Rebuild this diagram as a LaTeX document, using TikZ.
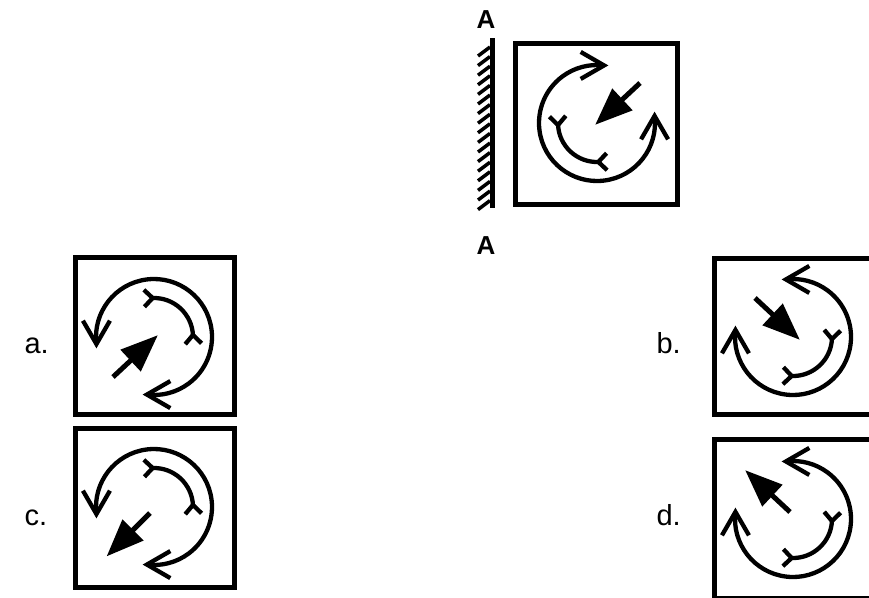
\documentclass[tikz,border=0pt]{standalone}
\usepackage{fontspec}
\setmainfont{Liberation Sans}
\newfontfamily\labelbold{Liberation Sans Bold}
\usetikzlibrary{calc}
\tikzset{
  framebox/.style={line width=5pt},
  circ/.style={line width=4.3pt, line cap=butt, line join=miter},
  hatchline/.style={line width=3.5pt},
  wallline/.style={line width=5pt},
  shaft/.style={line width=5pt},
  optlabel/.style={anchor=base west, font=\fontsize{29}{29}\selectfont},
  seclabel/.style={anchor=base, inner sep=0pt},
}
\newcommand\figarcs{%
  \draw[circ] (7:58) arc[start angle=7, end angle=-277, radius=58];
  \draw[circ] ([shift={(240:27)}]7:58) -- (7:58) -- ([shift={(300:27)}]7:58);
  \draw[circ] ([shift={(150:27)}]83:58) -- (83:58) -- ([shift={(210:27)}]83:58);
  \draw[circ] (183:39) arc[start angle=183, end angle=272, radius=39];
  \draw[circ] ([shift={(50:12)}]183:39) -- (183:39) -- ([shift={(136:12)}]183:39);
  \draw[circ] ([shift={(47:12)}]272:39) -- (272:39) -- ([shift={(-43:12)}]272:39);
}
\newcommand\bigarrow{%
  \draw[shaft] (0,0) -- (25,0);
  \fill (24,15) -- (61,0) -- (24,-15) -- cycle;
}
\begin{document}
\begin{tikzpicture}[x=1pt,y=-1pt]
\path[use as bounding box] (0,0) rectangle (869,597);
\clip (0,0) rectangle (869,597);

% reference figure
\node[seclabel] (Atop) at (486,28) {\fontsize{26}{26}\selectfont\labelbold A};
\node[seclabel] (Abot) at (486,254) {\fontsize{26}{26}\selectfont\labelbold A};
\draw[wallline] (492,38) -- (492,208);
\foreach \i in {0,...,16}{
  \draw[hatchline] (490,{47+9.6*\i}) -- (478,{56+9.6*\i});
}
\draw[framebox] (515.5,43.5) rectangle (677.5,204.5);
\begin{scope}[shift={(597,123)}, yscale=-1]
  \figarcs
  \begin{scope}[shift={(43,40)}, rotate=-223]\bigarrow\end{scope}
\end{scope}

% option a
\node[optlabel] (la) at (21,353) {a.};
\draw[framebox] (75.5,257.5) rectangle (234.5,414.5);
\begin{scope}[shift={(154,337)}, yscale=-1]
  \begin{scope}[rotate=180]\figarcs\end{scope}
  \begin{scope}[shift={(-41,-40)}, rotate=-43]\bigarrow\end{scope}
\end{scope}

% option c
\node[optlabel] (lc) at (21,525) {c.};
\draw[framebox] (75.5,428.5) rectangle (234.5,587.5);
\begin{scope}[shift={(154,507)}, yscale=-1]
  \begin{scope}[rotate=180]\figarcs\end{scope}
  \begin{scope}[shift={(-4,-6)}, rotate=-225]\bigarrow\end{scope}
\end{scope}

% option b
\node[optlabel] (lb) at (653,353) {b.};
\draw[framebox] (714.5,258.5) rectangle (873.5,414.5);
\begin{scope}[shift={(793,337)}, yscale=-1]
  \begin{scope}[xscale=-1]\figarcs\end{scope}
  \begin{scope}[shift={(-38,39)}, rotate=43]\bigarrow\end{scope}
\end{scope}

% option d
\node[optlabel] (ld) at (653,525) {d.};
\draw[framebox] (714.5,439.5) rectangle (873.5,598.5);
\begin{scope}[shift={(793,519)}, yscale=-1]
  \begin{scope}[xscale=-1]\figarcs\end{scope}
  \begin{scope}[shift={(-3,7)}, rotate=-137]\bigarrow\end{scope}
\end{scope}
\end{tikzpicture}
\end{document}
